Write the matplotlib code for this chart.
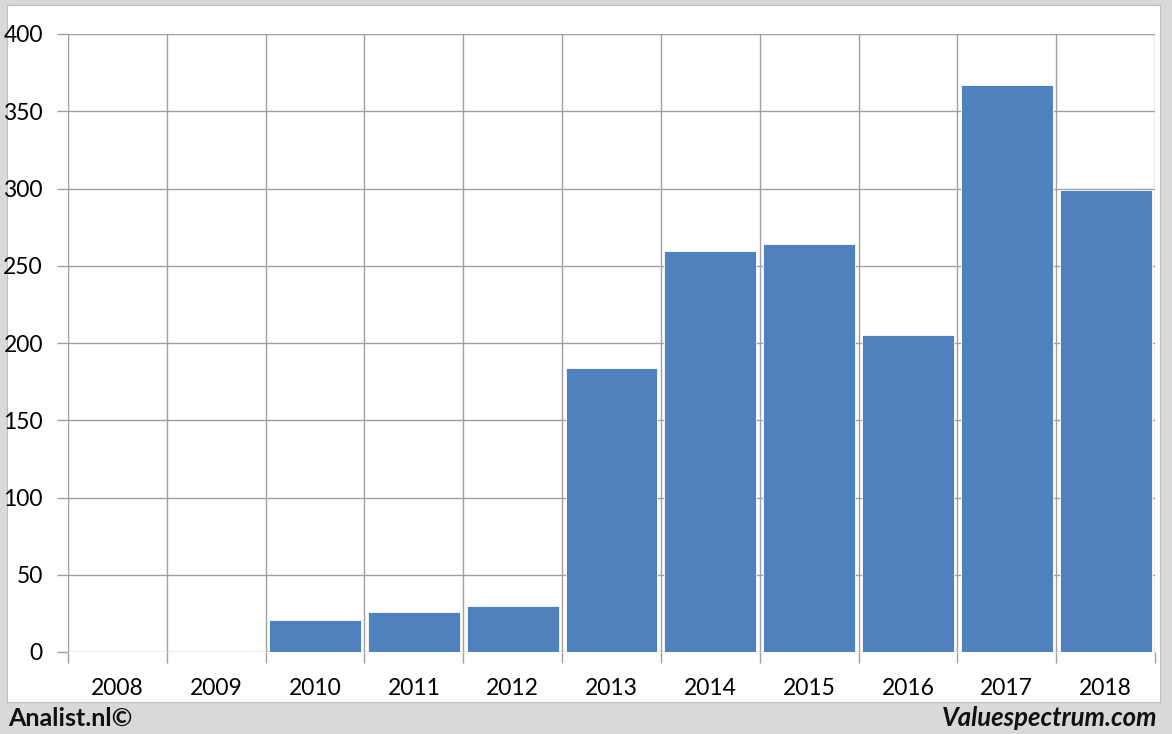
import matplotlib.pyplot as plt
from matplotlib.patches import Rectangle

# data
years = ['2008', '2009', '2010', '2011', '2012', '2013', '2014', '2015', '2016', '2017', '2018']
values = [0, 0, 20.5, 26, 30, 183.5, 259.5, 264, 205, 367, 299]
y_ticks = [0, 50, 100, 150, 200, 250, 300, 350, 400]

plt.rcParams['font.family'] = ['Lato', 'DejaVu Sans']

W, H = 1172, 734
fig = plt.figure(figsize=(W / 100, H / 100), dpi=100)
fig.patch.set_facecolor('#d9d9d9')

# white chart panel behind the axes
fig.patches.append(Rectangle((7 / W, 1 - 702 / H), (1160 - 7) / W, (702 - 5) / H,
                             transform=fig.transFigure, facecolor='white',
                             edgecolor='#bfbfbf', linewidth=0.8, zorder=-5))

ax = fig.add_axes([68 / W, 1 - 652 / H, (1155 - 68) / W, (652 - 34) / H])
ax.set_facecolor('white')

x = range(len(years))
ax.bar(x, values, width=0.93, color='#4f81bd', edgecolor='white', linewidth=0.6, zorder=3)

ax.set_xlim(-0.5, len(years) - 0.5)
ax.set_ylim(0, 400)
ax.set_yticks(y_ticks)
ax.set_yticklabels([str(t) for t in y_ticks], fontsize=16.5)
ax.set_xticks(list(x))
ax.set_xticklabels(years, fontsize=16.5)

# grid: horizontal at ticks, vertical at category boundaries
for t in y_ticks:
    ax.axhline(t, color='#a0a0a0', linewidth=1, zorder=1)
for b in range(len(years) + 1):
    ax.axvline(b - 0.5, color='#a0a0a0', linewidth=1, zorder=1)

ax.set_xticks([b - 0.5 for b in range(len(years) + 1)], minor=True)
ax.tick_params(axis='x', which='major', length=0, pad=19)
ax.tick_params(axis='x', which='minor', length=8, color='#a0a0a0', width=1)
ax.tick_params(axis='y', length=8, color='#a0a0a0', width=1, pad=10)
for s in ax.spines.values():
    s.set_visible(False)

fig.text(8 / W, 1 - 718 / H, 'Analist.nl©', fontsize=18, fontweight='bold',
         ha='left', va='center', color='#111111')
fig.text(1157 / W, 1 - 718 / H, 'Valuespectrum.com', fontsize=18.5, fontweight='bold',
         style='italic', ha='right', va='center', color='#111111')

fig.savefig('out.png', dpi=100, facecolor=fig.get_facecolor())
